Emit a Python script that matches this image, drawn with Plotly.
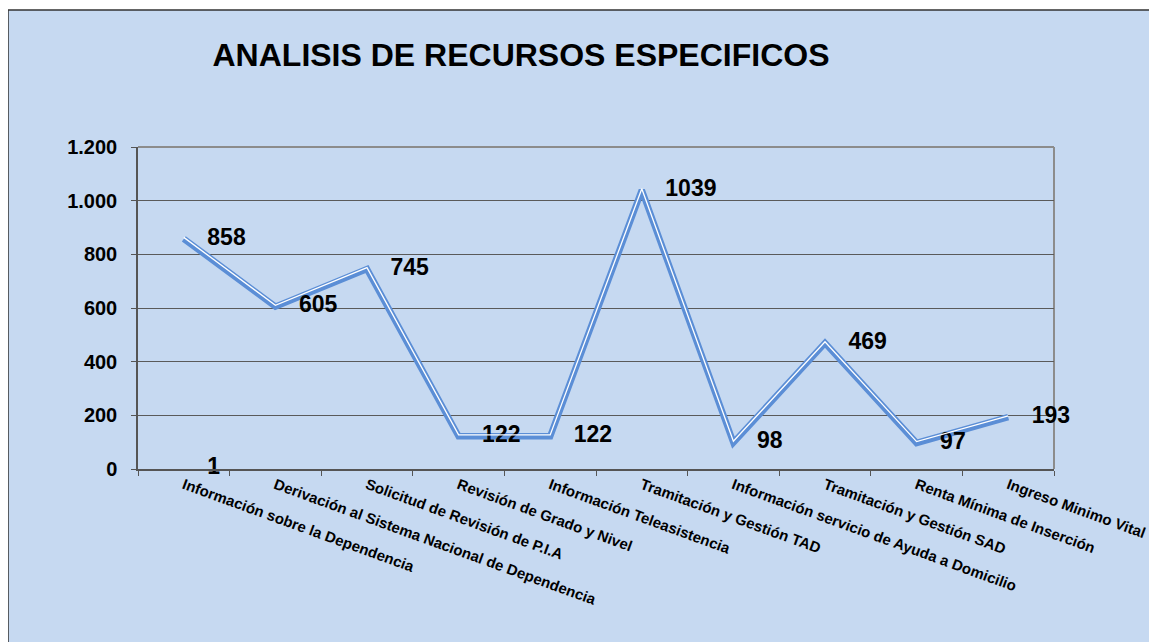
import plotly.graph_objects as go

# datos del grafico
categorias = [
    "Información sobre la Dependencia",
    "Derivación al Sistema Nacional de Dependencia",
    "Solicitud de Revisión de P.I.A",
    "Revisión de Grado y Nivel",
    "Información Teleasistencia",
    "Tramitación y Gestión TAD",
    "Información servicio de Ayuda a Domicilio",
    "Tramitación y Gestión SAD",
    "Renta Mínima de Inserción",
    "Ingreso Minimo Vital",
]
recursos = [858, 605, 745, 122, 122, 1039, 98, 469, 97, 193]
# etiqueta suelta que aparece en el eje (valor 1)
extra_cat = [categorias[0]]
extra_val = [1]

y_ticks = [0, 200, 400, 600, 800, 1000, 1200]

FONT = "Liberation Sans, Arial, sans-serif"
AZUL = "#5B8ED6"
FONDO = "#C6D9F1"

# la pagina tiene 8px de margen en el body, se compensa aqui
OFF = 8
L, R, T, B = 138 - OFF, 1054 - OFF, 147 - OFF, 469 - OFF
W, H = 1157, 642
pw, ph = R - L, B - T
# desplazamiento de la linea blanca (en px) para imitar la linea doble
desp = 1.4 * 1200 / ph

fig = go.Figure()

# linea doble: gruesa azul + fina blanca algo desplazada hacia arriba
fig.add_trace(go.Scatter(
    x=categorias, y=recursos, mode="lines",
    line=dict(color=AZUL, width=6.5), hoverinfo="skip",
))
fig.add_trace(go.Scatter(
    x=categorias, y=recursos, mode="lines", yaxis="y2",
    line=dict(color="white", width=1.3), hoverinfo="skip",
))
fig.add_trace(go.Scatter(
    x=categorias, y=recursos, mode="markers+text",
    marker=dict(size=36, color="rgba(0,0,0,0)"),
    text=[str(v) for v in recursos], textposition="middle right",
    textfont=dict(family=FONT, size=23, color="black", weight="bold"),
    cliponaxis=False,
))
fig.add_trace(go.Scatter(
    x=extra_cat, y=extra_val, mode="markers+text",
    marker=dict(size=36, color="rgba(0,0,0,0)"),
    text=[str(v) for v in extra_val], textposition="middle right",
    textfont=dict(family=FONT, size=23, color="black", weight="bold"),
    cliponaxis=False,
))

fig.update_layout(
    width=W, height=H,
    margin=dict(l=L, r=W - R, t=T, b=H - B),
    paper_bgcolor="white",
    plot_bgcolor="white",
    separators=",.",
    showlegend=False,
    title=dict(
        text="<b>ANALISIS DE RECURSOS ESPECIFICOS</b>",
        font=dict(family=FONT, size=32, color="black"),
        x=(521 - OFF - L) / pw, xref="paper", xanchor="center",
        y=1 - 47 / H, yanchor="middle",
    ),
    yaxis2=dict(
        overlaying="y", range=[-desp, 1200 - desp], visible=False,
        showgrid=False,
    ),
    shapes=[
        # marco exterior azul
        dict(type="rect", xref="paper", yref="paper", layer="below",
             x0=(8 - OFF - L) / pw, x1=(W + 20 - L) / pw,
             y0=(B - H - 20) / ph, y1=1 + (T - (10 - OFF)) / ph,
             fillcolor=FONDO, line=dict(color="#333333", width=1.5)),
        # borde superior y derecho del area de trazado
        dict(type="line", xref="x domain", yref="y domain", layer="below",
             x0=0, x1=1, y0=1, y1=1,
             line=dict(color="#8c8c8c", width=2)),
        dict(type="line", xref="x domain", yref="y domain", layer="below",
             x0=1, x1=1, y0=0, y1=1,
             line=dict(color="#8c8c8c", width=2)),
    ],
)

fig.update_xaxes(
    type="category",
    range=[-0.5, len(categorias) - 0.5],
    automargin=False,
    tickangle=20,
    tickson="boundaries",
    ticks="outside", ticklen=5, tickcolor="#555555",
    showline=True, linecolor="#555555", linewidth=1.5,
    showgrid=False,
    tickfont=dict(family=FONT, size=15, color="black", weight="bold"),
)
fig.update_layout(yaxis=dict(
    range=[0, 1200],
    automargin=False,
    tickvals=y_ticks,
    separatethousands=True,
    ticks="outside", ticklen=5, tickcolor="#555555",
    ticklabelstandoff=10,
    showline=True, linecolor="#555555", linewidth=1.5,
    showgrid=True, gridcolor="#5a5a5a", gridwidth=1,
    zeroline=False,
    tickfont=dict(family=FONT, size=20, color="black", weight="bold"),
))

fig.write_html("out.html")
